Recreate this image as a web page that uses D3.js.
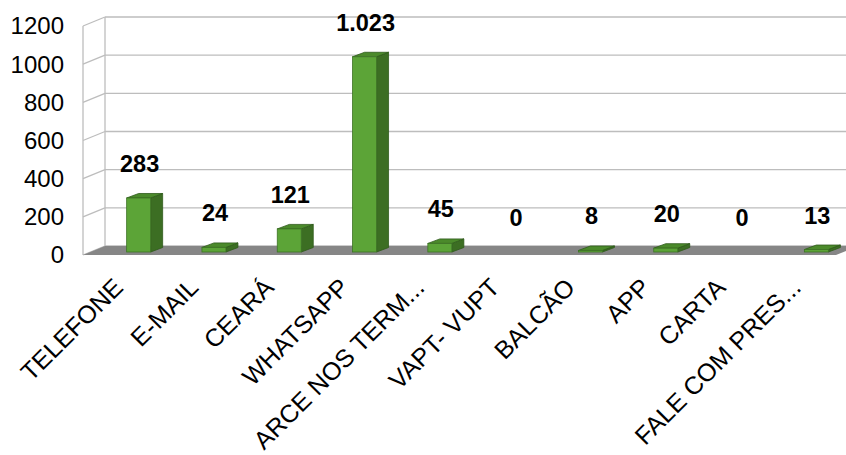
<!DOCTYPE html>
<html>
<head>
<meta charset="utf-8">
<script src="https://cdn.jsdelivr.net/npm/d3@7"></script>
<style>
  body { margin: 0; background: #fff; }
  text { font-family: "Liberation Sans", Arial, sans-serif; }
</style>
</head>
<body>
<div id="chart"></div>
<script>
var categories = ['TELEFONE', 'E-MAIL', 'CEARÁ', 'WHATSAPP', 'ARCE NOS TERM...',
  'VAPT- VUPT', 'BALCÃO', 'APP', 'CARTA', 'FALE COM PRES...'];
var values = [283, 24, 121, 1023, 45, 0, 8, 20, 0, 13];
var yTicks = [0, 200, 400, 600, 800, 1000, 1200];

var w = 846, h = 455;

// front plane of the floor and the 3d depth offset
var frontY = 255, frontX0 = 83, frontX1 = 836;
var depthX = 22, depthY = -9;

var svg = d3.select('#chart').append('svg')
  .attr('width', w)
  .attr('height', h);

var x = d3.scaleBand()
  .domain(categories)
  .range([frontX0, frontX1]);

var y = d3.scaleLinear()
  .domain([0, 1200])
  .range([0, 229]);

var br = d3.formatLocale({ decimal: ',', thousands: '.', grouping: [3], currency: ['R$', ''] });
var fmt = br.format(',d');

var grid = '#bdbdbd';

// back wall grid lines
svg.append('g').selectAll('line')
  .data(yTicks)
  .enter().append('line')
  .attr('x1', frontX0 + depthX)
  .attr('x2', w)
  .attr('y1', function(d) { return frontY + depthY - y(d); })
  .attr('y2', function(d) { return frontY + depthY - y(d); })
  .attr('stroke', grid)
  .attr('stroke-width', 1.3);

// side wall
var side = svg.append('g');
side.selectAll('line')
  .data(yTicks)
  .enter().append('line')
  .attr('x1', frontX0)
  .attr('y1', function(d) { return frontY - y(d); })
  .attr('x2', frontX0 + depthX)
  .attr('y2', function(d) { return frontY + depthY - y(d); })
  .attr('stroke', grid)
  .attr('stroke-width', 1.3);
side.append('line')
  .attr('x1', frontX0).attr('x2', frontX0)
  .attr('y1', frontY).attr('y2', frontY - y(1200))
  .attr('stroke', grid).attr('stroke-width', 1.3);
side.append('line')
  .attr('x1', frontX0 + depthX).attr('x2', frontX0 + depthX)
  .attr('y1', frontY + depthY).attr('y2', frontY + depthY - y(1200))
  .attr('stroke', grid).attr('stroke-width', 1.3);

// floor
svg.append('polygon')
  .attr('points', [
    [frontX0, frontY], [frontX1, frontY],
    [frontX1 + depthX, frontY + depthY], [frontX0 + depthX, frontY + depthY]
  ].join(' '))
  .attr('fill', '#868686');

// y axis labels
svg.append('g').selectAll('text')
  .data(yTicks)
  .enter().append('text')
  .attr('x', 64)
  .attr('y', function(d) { return frontY - y(d); })
  .attr('dy', '0.35em')
  .attr('text-anchor', 'end')
  .attr('font-size', 24)
  .attr('fill', '#000')
  .text(function(d) { return d; });

// bars
var barW = 24, barDX = 12, barDY = -4.5, barBase = 252;
function cx(i) { return x(categories[i]) + x.bandwidth() / 2 + 18; }

var bars = svg.append('g').selectAll('g')
  .data(values.map(function(v, i) { return { v: v, i: i }; }).filter(function(d) { return d.v > 0; }))
  .enter().append('g');

// side face
bars.append('polygon')
  .attr('points', function(d) {
    var r = cx(d.i) + barW / 2, t = barBase - y(d.v);
    return [[r, barBase], [r + barDX, barBase + barDY], [r + barDX, t + barDY], [r, t]].join(' ');
  })
  .attr('fill', '#3c6e23')
  .attr('stroke', '#2f5a1b')
  .attr('stroke-width', 0.8);

// top face
bars.append('polygon')
  .attr('points', function(d) {
    var l = cx(d.i) - barW / 2, r = cx(d.i) + barW / 2, t = barBase - y(d.v);
    return [[l, t], [r, t], [r + barDX, t + barDY], [l + barDX, t + barDY]].join(' ');
  })
  .attr('fill', '#4b8a2b')
  .attr('stroke', '#2f5a1b')
  .attr('stroke-width', 0.8);

// front face
bars.append('rect')
  .attr('x', function(d) { return cx(d.i) - barW / 2; })
  .attr('y', function(d) { return barBase - y(d.v); })
  .attr('width', barW)
  .attr('height', function(d) { return y(d.v); })
  .attr('fill', '#5ca437')
  .attr('stroke', '#3d7325')
  .attr('stroke-width', 0.8);

// value labels
svg.append('g').selectAll('text')
  .data(values)
  .enter().append('text')
  .attr('x', function(d, i) { return cx(i) + 1; })
  .attr('y', function(d) { return barBase - y(d) - 26; })
  .attr('text-anchor', 'middle')
  .attr('font-size', 23.5)
  .attr('font-weight', 'bold')
  .attr('fill', '#000')
  .text(function(d) { return fmt(d); });

// category labels
svg.append('g').selectAll('text')
  .data(categories)
  .enter().append('text')
  .attr('transform', function(d, i) {
    return 'translate(' + (cx(i) - 14) + ',' + 289 + ') rotate(-45)';
  })
  .attr('text-anchor', 'end')
  .attr('font-size', 25)
  .attr('fill', '#000')
  .text(function(d) { return d; });
</script>
</body>
</html>
